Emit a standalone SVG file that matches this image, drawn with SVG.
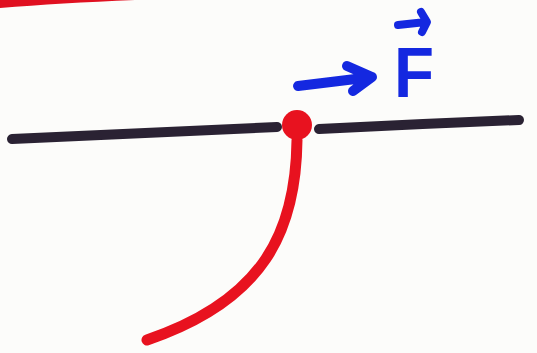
<svg xmlns="http://www.w3.org/2000/svg" width="537" height="353" viewBox="0 0 537 353">
<style>
.ink{fill:none;stroke-linecap:round;stroke-linejoin:round}
.black{stroke:#2a2233;stroke-width:10}
.red{stroke:#e8121f;stroke-width:11}
.blue{stroke:#1428e0;stroke-width:10}
</style>
<rect width="537" height="353" fill="#fcfcfa"/>
<path d="M0 0 L135 0 Q60 3 0 8 Z" fill="#e01020"/>
<g id="rope">
<path class="ink black" d="M12 139 Q120 134 277 127"/>
<path class="ink black" d="M319 129 Q420 124 519 120"/>
</g>
<g id="bead">
<path class="ink red" d="M297 140 C296 230 265 300 147 340"/>
<circle cx="297" cy="125" r="15" fill="#e8121f"/>
</g>
<g id="force">
<path class="ink blue" d="M298 86 L372 77 M347 66 L372 77 L353 91"/>
<text x="394" y="97" font-family="Liberation Sans, sans-serif" font-weight="bold" font-size="70" fill="#1428e0" textLength="40" lengthAdjust="spacingAndGlyphs">F</text>
<path class="ink blue" style="stroke-width:8" d="M398 25 L426 22 M421 12 L427 22 L422 32"/>
</g>
</svg>
